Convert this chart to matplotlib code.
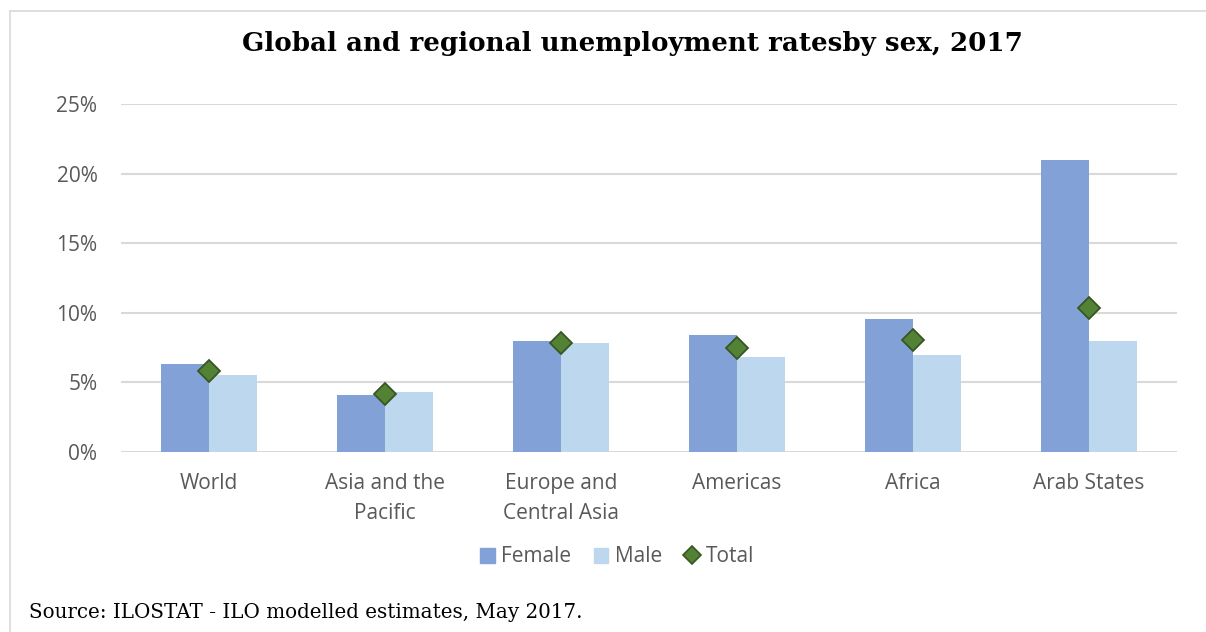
import matplotlib
matplotlib.use("Agg")
import matplotlib.pyplot as plt
from matplotlib.patches import Patch
from matplotlib.lines import Line2D
from matplotlib.ticker import FuncFormatter
import numpy as np

categories = ["World", "Asia and the\nPacific", "Europe and\nCentral Asia", "Americas", "Africa", "Arab States"]
female = [6.35, 4.1, 7.95, 8.38, 9.54, 20.95]
male = [5.5, 4.3, 7.8, 6.84, 7.0, 7.95]
total = [5.8, 4.2, 7.85, 7.44, 8.05, 10.35]
yticks = [0, 5, 10, 15, 20, 25]

c_female = "#82A2D7"
c_male = "#BDD7EE"
c_total = "#548235"
c_total_edge = "#375623"
gray = "#595959"
tick_font = "Open Sans"
serif = "DejaVu Serif"

fig = plt.figure(figsize=(12.06, 6.32), dpi=100)
W, H = 1206, 632

# outer frame (top and left lines)
fig.add_artist(Line2D([10 / W, 1.0], [1 - 11 / H, 1 - 11 / H], color="#d9d9d9", lw=1.2, transform=fig.transFigure))
fig.add_artist(Line2D([10 / W, 10 / W], [1 - 11 / H, 0.0], color="#d9d9d9", lw=1.2, transform=fig.transFigure))

ax = fig.add_axes([121 / W, 1 - 452 / H, (1177 - 121) / W, (452 - 104) / H])
x = np.arange(len(categories))
bw = 0.273
ax.bar(x - bw / 2, female, width=bw, color=c_female, zorder=2, label="Female")
ax.bar(x + bw / 2, male, width=bw, color=c_male, zorder=2, label="Male")
ax.plot(x, total, linestyle="none", marker="D", ms=11, mfc=c_total, mec=c_total_edge, mew=1.3, zorder=3, label="Total")

ax.set_xlim(-0.5, len(categories) - 0.5)
ax.set_ylim(0, 25)
ax.set_yticks(yticks)
ax.yaxis.set_major_formatter(FuncFormatter(lambda v, p: f"{v:.0f}%"))
ax.set_xticks(x)
ax.set_xticklabels(categories, linespacing=1.55)
ax.grid(axis="y", color="#d9d9d9", lw=1.5, zorder=0)
ax.set_axisbelow(True)
for s in ax.spines.values():
    s.set_visible(False)
ax.tick_params(axis="both", length=0, colors=gray, labelsize=15)
ax.tick_params(axis="y", pad=17)
ax.tick_params(axis="x", pad=15)
for lab in ax.get_xticklabels() + ax.get_yticklabels():
    lab.set_fontfamily(tick_font)
    lab.set_color(gray)

fig.text(632 / W, 1 - 43 / H, "Global and regional unemployment ratesby sex, 2017",
         ha="center", va="center", fontsize=18.8, fontweight="bold", family=serif, color="black")

handles = [Patch(color=c_female, label="Female"), Patch(color=c_male, label="Male"),
           Line2D([], [], linestyle="none", marker="D", ms=9, mfc=c_total, mec=c_total_edge, mew=1.2, label="Total")]
leg = fig.legend(handles=handles, loc="center", bbox_to_anchor=(617 / W, 1 - 557 / H), ncol=3, frameon=False,
                 prop={"family": tick_font, "size": 15}, handlelength=0.7, handleheight=0.7,
                 handletextpad=0.3, columnspacing=1.1)
for t in leg.get_texts():
    t.set_color(gray)

fig.text(29 / W, 1 - 612 / H, "Source: ILOSTAT - ILO modelled estimates, May 2017.", ha="left", va="center",
         fontsize=14.35, family=serif, color="black")

fig.savefig("out.png", dpi=100)
